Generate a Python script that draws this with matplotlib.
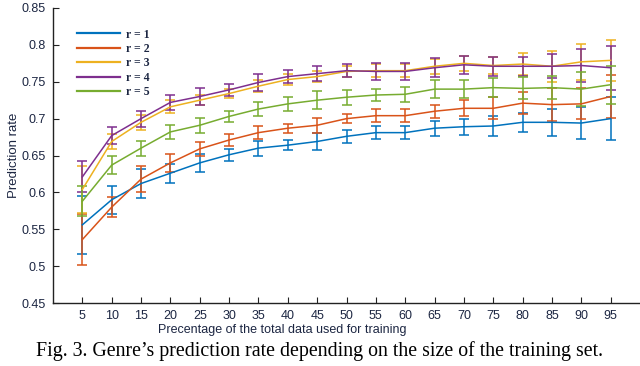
import matplotlib
matplotlib.use("Agg")
import matplotlib.pyplot as plt
from matplotlib.lines import Line2D

x = [5, 10, 15, 20, 25, 30, 35, 40, 45, 50, 55, 60, 65, 70, 75, 80, 85, 90, 95]

r1 = [0.556, 0.590, 0.612, 0.626, 0.640, 0.651, 0.660, 0.664, 0.669, 0.676, 0.681, 0.681, 0.687, 0.689, 0.690, 0.695, 0.695, 0.694, 0.700]
r1_err = [0.039, 0.019, 0.020, 0.013, 0.012, 0.008, 0.010, 0.007, 0.011, 0.009, 0.009, 0.009, 0.010, 0.011, 0.013, 0.013, 0.018, 0.022, 0.029]

r2 = [0.536, 0.580, 0.618, 0.640, 0.659, 0.671, 0.681, 0.687, 0.691, 0.700, 0.704, 0.704, 0.710, 0.714, 0.714, 0.721, 0.719, 0.720, 0.730]
r2_err = [0.035, 0.014, 0.018, 0.012, 0.009, 0.008, 0.009, 0.006, 0.010, 0.006, 0.009, 0.009, 0.009, 0.011, 0.015, 0.015, 0.022, 0.021, 0.029]

r3 = [0.604, 0.669, 0.695, 0.716, 0.725, 0.734, 0.744, 0.753, 0.757, 0.764, 0.765, 0.765, 0.771, 0.775, 0.772, 0.774, 0.771, 0.777, 0.779]
r3_err = [0.032, 0.010, 0.010, 0.009, 0.007, 0.006, 0.008, 0.008, 0.008, 0.008, 0.009, 0.009, 0.010, 0.010, 0.012, 0.015, 0.021, 0.024, 0.028]

r4 = [0.621, 0.677, 0.700, 0.722, 0.730, 0.739, 0.749, 0.757, 0.761, 0.765, 0.764, 0.764, 0.769, 0.773, 0.771, 0.771, 0.771, 0.772, 0.769]
r4_err = [0.021, 0.012, 0.011, 0.010, 0.011, 0.008, 0.011, 0.009, 0.010, 0.009, 0.011, 0.011, 0.013, 0.012, 0.013, 0.013, 0.016, 0.022, 0.030]

r5 = [0.588, 0.637, 0.660, 0.682, 0.691, 0.703, 0.713, 0.720, 0.725, 0.729, 0.732, 0.733, 0.740, 0.740, 0.742, 0.741, 0.742, 0.740, 0.746]
r5_err = [0.020, 0.012, 0.010, 0.010, 0.010, 0.007, 0.010, 0.009, 0.012, 0.010, 0.008, 0.010, 0.012, 0.012, 0.013, 0.015, 0.016, 0.023, 0.026]

labels = ["r = 1", "r = 2", "r = 3", "r = 4", "r = 5"]
colors = ["#0072BD", "#D95319", "#EDB120", "#7E2F8E", "#77AC30"]
series = [(r1, r1_err), (r2, r2_err), (r3, r3_err), (r4, r4_err), (r5, r5_err)]

yticks = [0.45, 0.5, 0.55, 0.6, 0.65, 0.7, 0.75, 0.8, 0.85]
ytick_labels = ["0.45", "0.5", "0.55", "0.6", "0.65", "0.7", "0.75", "0.8", "0.85"]

txt = "#1c2642"
plt.rcParams['font.family'] = ['Liberation Sans', 'DejaVu Sans']

fig = plt.figure(figsize=(6.4, 3.66), dpi=100)
ax = fig.add_axes([53/640, 63/366, 587/640, 295/366])

handles = []
for (vals, err), c, lab in zip(series, colors, labels):
    ax.errorbar(x, vals, yerr=err, color=c, lw=1.1, elinewidth=1.1,
                capsize=3.6, capthick=1.1)
    handles.append(Line2D([], [], color=c, lw=1.6))

ax.set_xlim(0, 100)
ax.set_ylim(0.45, 0.85)
ax.set_xticks(x)
ax.set_xticklabels([str(v) for v in x])
ax.set_yticks(yticks)
ax.set_yticklabels(ytick_labels)
for s in ['top', 'right']:
    ax.spines[s].set_visible(False)
for s in ['left', 'bottom']:
    ax.spines[s].set_linewidth(1.0)
    ax.spines[s].set_color('#222222')
ax.tick_params(direction='in', length=4, width=0.8, labelsize=9, colors='#222222', labelcolor=txt, pad=5)

leg = ax.legend(handles=handles, labels=labels, loc='upper left',
                bbox_to_anchor=(66/640, 1 - 18/366), bbox_transform=fig.transFigure,
                frameon=False, handlelength=3.7, handletextpad=0.5,
                labelspacing=0.2, prop={'family': 'Liberation Serif', 'weight': 'bold', 'size': 8.5})
for t in leg.get_texts():
    t.set_color(txt)

fig.text(14/640, 1 - 155/366, "Prediction rate", rotation=90, ha='center', va='center',
         fontsize=9.5, color=txt)
fig.text(282/640, 1 - 330/366, "Precentage of the total data used for training",
         ha='center', va='center', fontsize=9, color=txt)
fig.text(319/640, 1 - 351/366,
         "Fig. 3. Genre\u2019s prediction rate depending on the size of the training set.",
         ha='center', va='center', fontsize=14.3, family='Liberation Serif', color='black')

fig.savefig("out.png", dpi=100)
